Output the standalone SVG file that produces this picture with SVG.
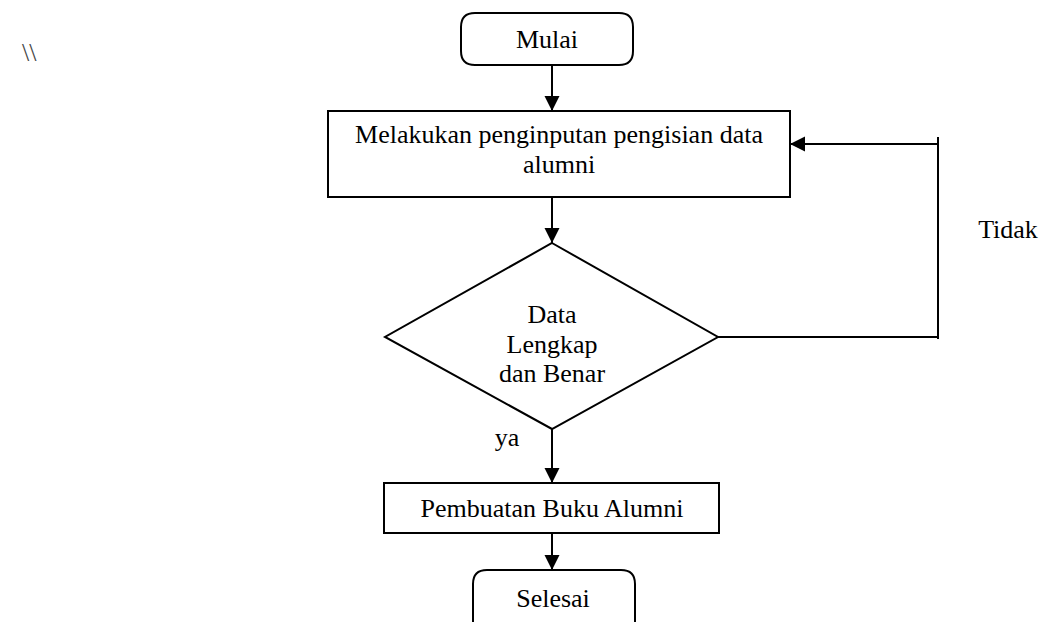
<svg xmlns="http://www.w3.org/2000/svg" width="1040" height="622" viewBox="0 0 1040 622">
<style>
.s{fill:#fff;stroke:#000;stroke-width:2}
.t{font-family:"Liberation Serif","Times New Roman",serif;font-size:26px;fill:#000;text-anchor:middle}
.c{fill:none;stroke:#000;stroke-width:2}
</style>
<defs>
<marker id="ah" markerUnits="userSpaceOnUse" markerWidth="16" markerHeight="16" viewBox="0 0 16 16" refX="15" refY="8" orient="auto">
<path d="M0,0.5 L15,8 L0,15.5 Z" fill="#000"/>
</marker>
</defs>
<rect width="1040" height="622" fill="#fff"/>
<text x="22" y="61" font-family="Liberation Serif, serif" font-size="26" fill="#444">\\</text>
<g id="connectors">
<line class="c" x1="552" y1="66" x2="552" y2="111" marker-end="url(#ah)"/>
<line class="c" x1="552" y1="197" x2="552" y2="243" marker-end="url(#ah)"/>
<line class="c" x1="552" y1="429" x2="552" y2="483" marker-end="url(#ah)"/>
<line class="c" x1="552" y1="533" x2="552" y2="570" marker-end="url(#ah)"/>
<polyline class="c" points="718,337 938,337"/>
<line class="c" x1="938" y1="137" x2="938" y2="339"/>
<line class="c" x1="938" y1="144" x2="790" y2="144" marker-end="url(#ah)"/>
<text class="t" x="1008" y="238">Tidak</text>
<text class="t" x="507" y="446">ya</text>
</g>
<g id="mulai">
<path class="s" d="M475,13 H619 Q633,13 633,27 V51 Q633,65 619,65 H475 Q461,65 461,51 V27 Q461,13 475,13 Z"/>
<text class="t" x="547" y="48">Mulai</text>
</g>
<g id="input">
<rect class="s" x="328" y="111" width="462" height="86"/>
<text class="t" x="559" y="143">Melakukan penginputan pengisian data</text>
<text class="t" x="559" y="173">alumni</text>
</g>
<g id="decision">
<polygon class="s" points="552,243 718,337 552,429 385,337"/>
<text class="t" x="552" y="323">Data</text>
<text class="t" x="552" y="353">Lengkap</text>
<text class="t" x="552" y="382">dan Benar</text>
</g>
<g id="buku">
<rect class="s" x="384" y="483" width="335" height="50"/>
<text class="t" x="552" y="517">Pembuatan Buku Alumni</text>
</g>
<g id="selesai">
<path class="s" d="M487,570 H621 Q635,570 635,584 V640 H473 V584 Q473,570 487,570 Z"/>
<text class="t" x="553" y="607">Selesai</text>
</g>
</svg>
